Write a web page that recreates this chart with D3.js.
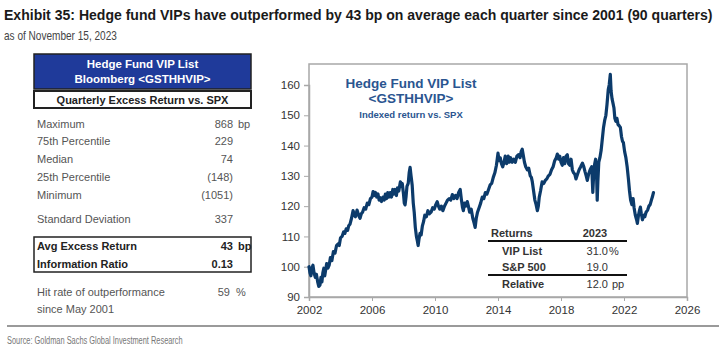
<!DOCTYPE html>
<html><head><meta charset="utf-8">
<script src="https://cdn.jsdelivr.net/npm/d3@7"></script>
<style>
body{margin:0;background:#fff;}
svg{display:block;}
text{font-family:"Liberation Sans",Arial,sans-serif;}
</style></head>
<body>
<svg id="c" width="725" height="354"></svg>
<script>
// ---- data ----
const years = [2002.0,2002.06,2002.12,2002.18,2002.25,2002.32,2002.4,2002.47,2002.55,2002.62,2002.7,2002.76,2002.82,2002.88,2002.94,2003.0,2003.06,2003.12,2003.2,2003.28,2003.36,2003.45,2003.55,2003.65,2003.75,2003.84,2003.92,2004.0,2004.1,2004.2,2004.28,2004.36,2004.45,2004.52,2004.6,2004.7,2004.8,2004.88,2004.95,2005.05,2005.15,2005.24,2005.32,2005.4,2005.5,2005.6,2005.7,2005.8,2005.9,2006.0,2006.07,2006.15,2006.22,2006.3,2006.38,2006.45,2006.52,2006.6,2006.7,2006.78,2006.85,2006.92,2007.0,2007.08,2007.16,2007.24,2007.32,2007.4,2007.47,2007.55,2007.62,2007.7,2007.8,2007.86,2007.92,2008.0,2008.05,2008.1,2008.16,2008.22,2008.3,2008.36,2008.42,2008.48,2008.55,2008.62,2008.68,2008.75,2008.82,2008.88,2008.93,2008.98,2009.05,2009.12,2009.2,2009.28,2009.35,2009.45,2009.55,2009.65,2009.75,2009.85,2009.95,2010.05,2010.14,2010.22,2010.3,2010.4,2010.5,2010.6,2010.7,2010.8,2010.9,2011.0,2011.1,2011.2,2011.3,2011.4,2011.5,2011.6,2011.68,2011.75,2011.8,2011.88,2011.95,2012.05,2012.12,2012.2,2012.3,2012.4,2012.48,2012.55,2012.62,2012.7,2012.8,2012.9,2013.0,2013.1,2013.2,2013.3,2013.4,2013.5,2013.6,2013.7,2013.8,2013.9,2014.0,2014.07,2014.14,2014.22,2014.3,2014.38,2014.46,2014.55,2014.65,2014.72,2014.8,2014.9,2015.0,2015.1,2015.2,2015.3,2015.4,2015.47,2015.54,2015.6,2015.68,2015.76,2015.86,2015.95,2016.05,2016.12,2016.18,2016.26,2016.34,2016.42,2016.5,2016.56,2016.62,2016.7,2016.8,2016.9,2017.0,2017.1,2017.2,2017.3,2017.4,2017.5,2017.6,2017.7,2017.77,2017.85,2017.92,2018.0,2018.08,2018.16,2018.24,2018.32,2018.4,2018.48,2018.56,2018.64,2018.72,2018.8,2018.88,2018.95,2019.05,2019.15,2019.25,2019.36,2019.45,2019.52,2019.6,2019.67,2019.75,2019.85,2019.95,2020.02,2020.08,2020.14,2020.2,2020.26,2020.3,2020.34,2020.4,2020.47,2020.55,2020.62,2020.7,2020.78,2020.85,2020.92,2021.0,2021.06,2021.13,2021.18,2021.24,2021.3,2021.36,2021.42,2021.48,2021.55,2021.62,2021.7,2021.77,2021.84,2021.9,2021.96,2022.04,2022.12,2022.2,2022.28,2022.35,2022.42,2022.5,2022.58,2022.64,2022.72,2022.8,2022.85,2022.92,2022.98,2023.04,2023.1,2023.17,2023.24,2023.32,2023.4,2023.5,2023.58,2023.66,2023.74,2023.8,2023.87];
const values = [100,98,97,99.5,100.5,98,96.5,97.5,95,93.5,94,96.5,95,98,99.5,97,99,101,99.5,100.5,103,102,105,104.5,107,107.5,107,109.5,110,111.5,111,112.5,112,113.5,114,116,118.5,117,116.5,118.7,117,116,117.5,118,119.5,119,121,120.5,122.5,123,124.8,123.5,124.5,123,124,122,122.8,121.5,123,122,124,122.5,124.5,123,124.5,123,125.5,124,125.5,123.5,126,125,128,126.5,127.5,124,121,120.4,123,126.5,127.5,131,132.8,130,127,121,118,113,110,108.5,107,109,111,110.5,113.5,115,117,116.5,118.5,117.5,118,119.5,119,120.5,121.5,120,119,120,118.5,120,121,122,122.5,122,123.8,122.5,123.5,122.5,124.5,125.5,122,119.5,118.5,121,120,121.5,120,118,119,116,114.5,113,116,118,119.5,121,123,122.5,124.5,124,125.5,127,127.5,129.5,131,133.5,137.5,135,136,134,133,134.5,136.5,134,136.5,134.5,136,134.5,135.5,134.5,136.5,137,136,138,138.8,137,134.5,133,132,132.5,130,129.5,128,125,122,120.5,118.5,120,123,125,128,127.5,128.5,129,130,130.5,132,133,135,136,137.2,135.5,136.5,134.5,133.5,136,134,136.5,137,134,133.5,135.5,132,131,130.5,129,130.5,132,133,134.2,133,131.5,130,128.5,130.5,132,133,124.5,131,134,135.5,130,122,128,134.5,136,138.5,142,146,148.5,150,153.5,158.5,160,163.5,158,155.5,154,152.5,149,148,149,147,146.5,146,143,141.5,141,138,136,133,129,125,122,120.5,122.5,119.5,117,115.5,114.3,117,118.5,119.7,117.5,115.5,117,116.5,118,118.7,120,120.5,122,123,124.5];
const yTicks = [90,100,110,120,130,140,150,160];
const xTicks = [2002,2006,2010,2014,2018,2022,2026];

const statLabels = ["Maximum","75th Percentile","Median","25th Percentile","Minimum","Standard Deviation","Avg Excess Return","Information Ratio","Hit rate of outperformance"];
const statValues = ["868","229","74","(148)","(1051)","337","43","0.13","59"];
const statUnits  = ["bp","","","","","","bp","",""];

const retLabels = ["VIP List","S&P 500","Relative"];
const retValues = ["31.0","19.0","12.0"];
const retUnits  = ["%","","pp"];

// ---- drawing ----
const svg = d3.select("#c");

// condensed text: measure then squeeze horizontally to a target width
function narrowText(str, x0, y0, size, weight, fill, targetW){
  const t = svg.append("text").attr("x",0).attr("y",0)
    .attr("font-size",size).attr("font-weight",weight).attr("fill",fill).text(str);
  const w = t.node().getComputedTextLength();
  t.attr("transform",`translate(${x0},${y0}) scale(${targetW/w},1)`);
  return t;
}
narrowText("Exhibit 35: Hedge fund VIPs have outperformed by 43 bp on average each quarter since 2001 (90 quarters)",
  4, 20, 15.5, "bold", "#1a1a1a", 709);
narrowText("as of November 15, 2023", 4, 40, 13, "normal", "#444", 113);

// Left stats panel
const L = svg.append("g");
L.append("rect").attr("x",34).attr("y",54).attr("width",217).attr("height",35)
  .attr("fill","#1f3a9a").attr("stroke","#222").attr("stroke-width",1.5);
L.append("text").attr("x",142.5).attr("y",68).attr("text-anchor","middle")
  .attr("font-size",11.5).attr("font-weight","bold").attr("fill","#fff").text("Hedge Fund VIP List");
L.append("text").attr("x",142.5).attr("y",83).attr("text-anchor","middle")
  .attr("font-size",11.5).attr("font-weight","bold").attr("fill","#fff").text("Bloomberg <GSTHHVIP>");
L.append("rect").attr("x",34).attr("y",91).attr("width",217).attr("height",17)
  .attr("fill","#fff").attr("stroke","#222").attr("stroke-width",2);
L.append("text").attr("x",142.5).attr("y",104).attr("text-anchor","middle")
  .attr("font-size",11).attr("font-weight","bold").attr("fill","#222").text("Quarterly Excess Return vs. SPX");

const rowY = [128,145,163,181,199,223,250,268,296];
L.append("rect").attr("x",34).attr("y",237).attr("width",217).attr("height",35)
  .attr("fill","none").attr("stroke","#222").attr("stroke-width",1.5);
statLabels.forEach((lab,i)=>{
  const bold = (i===6||i===7);
  L.append("text").attr("x",37).attr("y",rowY[i]).attr("font-size",11)
    .attr("font-weight",bold?"bold":"normal").attr("fill",bold?"#222":"#555").text(lab);
  const vx = (i===8) ? 230 : 233;
  L.append("text").attr("x",vx).attr("y",rowY[i]).attr("font-size",11).attr("text-anchor","end")
    .attr("font-weight",bold?"bold":"normal").attr("fill",bold?"#222":"#555").text(statValues[i]);
  if(statUnits[i]) L.append("text").attr("x",238).attr("y",rowY[i]).attr("font-size",11)
    .attr("font-weight",bold?"bold":"normal").attr("fill",bold?"#222":"#555").text(statUnits[i]);
});
L.append("text").attr("x",236).attr("y",296).attr("font-size",11).attr("fill","#555").text("%");
L.append("text").attr("x",37).attr("y",313).attr("font-size",11).attr("fill","#555").text("since May 2001");

// Chart
const x = d3.scaleLinear().domain([2002,2026]).range([309,687]);
const y = d3.scaleLinear().domain([90,160]).range([297,85]);
const plotTop = 64;

svg.append("rect").attr("x",309).attr("y",plotTop).attr("width",378).attr("height",297-plotTop)
  .attr("fill","none").attr("stroke","#a8a8a8").attr("stroke-width",1.5);

const ya = svg.append("g").attr("transform","translate(309,0)")
  .call(d3.axisLeft(y).tickValues(yTicks).tickSize(5).tickPadding(4).tickFormat(d3.format("d")));
const xa = svg.append("g").attr("transform","translate(0,297)")
  .call(d3.axisBottom(x).tickValues(xTicks).tickSize(4).tickPadding(5).tickFormat(d3.format("d")));
[ya,xa].forEach(a=>{
  a.select(".domain").attr("stroke","#a8a8a8").attr("stroke-width",1.5);
  a.selectAll(".tick line").attr("stroke","#a8a8a8");
  a.selectAll(".tick text").attr("font-size",11.5).attr("fill","#333")
    .attr("font-family","Liberation Sans, Arial, sans-serif");
});

const pts = years.map((t,i)=>[t,values[i]]);
svg.append("path").datum(pts)
  .attr("fill","none").attr("stroke","#0c3b6b").attr("stroke-width",3.2)
  .attr("stroke-linejoin","round").attr("stroke-linecap","round")
  .attr("d",d3.line().x(d=>x(d[0])).y(d=>y(d[1])));

// chart title
const tc = "#2a5590";
svg.append("text").attr("x",411).attr("y",88).attr("text-anchor","middle")
  .attr("font-size",13.5).attr("font-weight","bold").attr("fill",tc).text("Hedge Fund VIP List");
svg.append("text").attr("x",411).attr("y",103).attr("text-anchor","middle")
  .attr("font-size",13.5).attr("font-weight","bold").attr("fill",tc).text("<GSTHHVIP>");
svg.append("text").attr("x",411).attr("y",118).attr("text-anchor","middle")
  .attr("font-size",9.5).attr("font-weight","bold").attr("fill",tc).text("Indexed return vs. SPX");

// returns table
const R = svg.append("g");
R.append("text").attr("x",491).attr("y",237).attr("font-size",11).attr("font-weight","bold").attr("fill","#333").text("Returns");
R.append("text").attr("x",595).attr("y",237).attr("text-anchor","middle").attr("font-size",11).attr("font-weight","bold").attr("fill","#333").text("2023");
R.append("line").attr("x1",488).attr("x2",627).attr("y1",241).attr("y2",241).attr("stroke","#111").attr("stroke-width",2);
const rY=[255,271,288];
retLabels.forEach((lab,i)=>{
  R.append("text").attr("x",502).attr("y",rY[i]).attr("font-size",11).attr("font-weight","bold").attr("fill","#333").text(lab);
  R.append("text").attr("x",608).attr("y",rY[i]).attr("text-anchor","end").attr("font-size",11).attr("fill","#333").text(retValues[i]);
  if(retUnits[i]) R.append("text").attr("x",retUnits[i]==="%"?609:612).attr("y",rY[i]).attr("font-size",11).attr("fill","#333").text(retUnits[i]);
});
R.append("line").attr("x1",488).attr("x2",627).attr("y1",275).attr("y2",275).attr("stroke","#111").attr("stroke-width",2);

// bottom rule + source
svg.append("line").attr("x1",7).attr("x2",719).attr("y1",326).attr("y2",326).attr("stroke","#9a9a9a").attr("stroke-width",2);
narrowText("Source: Goldman Sachs Global Investment Research", 7, 344, 11.5, "normal", "#777", 176);
</script>
</body></html>
